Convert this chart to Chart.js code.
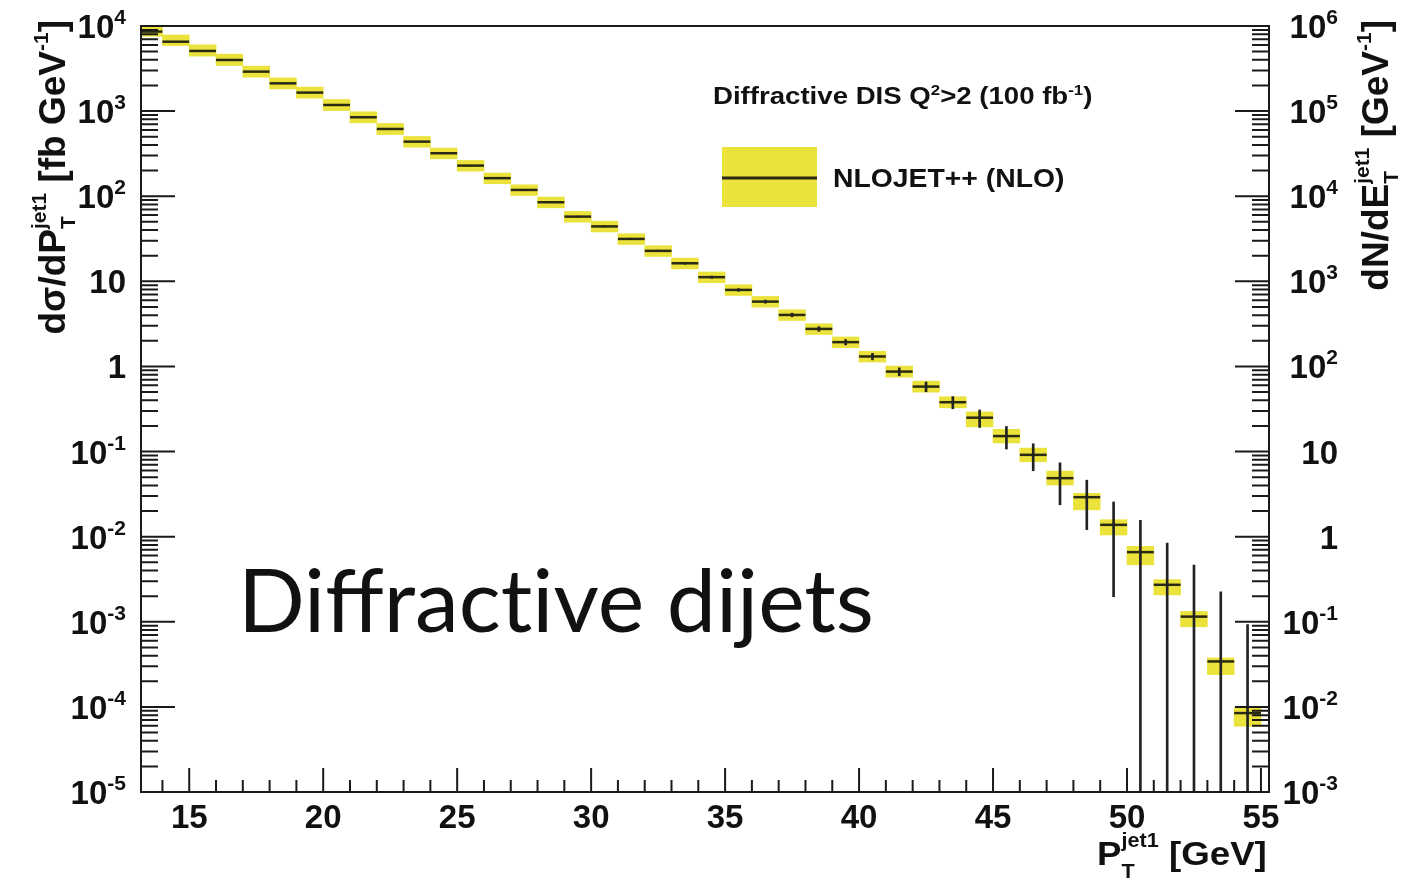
<!DOCTYPE html>
<html>
<head>
<meta charset="utf-8">
<title>Diffractive dijets</title>
<script src="https://cdn.jsdelivr.net/npm/chart.js@4.4.1/dist/chart.umd.min.js"></script>
<style>
  html, body { margin: 0; padding: 0; background: #fff; }
  #wrap { width: 1410px; height: 882px; }
</style>
</head>
<body>
<div id="wrap"><canvas id="chart-dijets" width="1410" height="882"></canvas></div>
<script>
// 1 GeV bins in P_T^jet1
const binCentres = [13.5, 14.5, 15.5, 16.5, 17.5, 18.5, 19.5, 20.5, 21.5, 22.5,
  23.5, 24.5, 25.5, 26.5, 27.5, 28.5, 29.5, 30.5, 31.5, 32.5,
  33.5, 34.5, 35.5, 36.5, 37.5, 38.5, 39.5, 40.5, 41.5, 42.5,
  43.5, 44.5, 45.5, 46.5, 47.5, 48.5, 49.5, 50.5, 51.5, 52.5,
  53.5, 54.5]

// NLOJET++ dsigma/dPT [fb/GeV]
const xsec = [8600, 6540, 5090, 3990, 2910, 2120, 1650, 1180, 847, 617,
  438, 320, 229, 163, 118.5, 85, 57.6, 44.2, 31.5, 22.8,
  16.3, 11.2, 7.93, 5.78, 4.03, 2.76, 1.93, 1.31, 0.870, 0.580,
  0.380, 0.250, 0.152, 0.0915, 0.0487, 0.0291, 0.01377, 0.00658, 0.00272, 0.00115,
  0.000342, 0.0000846]

// statistical error for 100 fb^-1
const statErr = [9, 8, 7, 6.3, 5.4, 4.6, 4.1, 3.4, 2.9, 2.5,
  2.1, 1.8, 1.5, 1.3, 1.1, 0.92, 0.76, 0.66, 0.56, 0.48,
  0.40, 0.33, 0.28, 0.24, 0.20, 0.17, 0.14, 0.115, 0.093, 0.076,
  0.062, 0.058, 0.045, 0.032, 0.025, 0.017, 0.0118, 0.0090, 0.0057, 0.0035,
  0.0019, 0.00084]

// theory band, relative up / down
const bandUp = [0.18, 0.20, 0.18, 0.17, 0.16, 0.16, 0.16, 0.16, 0.16, 0.16,
  0.15, 0.15, 0.15, 0.15, 0.15, 0.15, 0.15, 0.15, 0.15, 0.15,
  0.15, 0.15, 0.15, 0.15, 0.15, 0.15, 0.15, 0.15, 0.16, 0.16,
  0.16, 0.17, 0.20, 0.20, 0.21, 0.11, 0.15, 0.17, 0.15, 0.15,
  0.10, 0.15]
const bandDown = [0.12, 0.10, 0.13, 0.14, 0.14, 0.14, 0.14, 0.14, 0.14, 0.14,
  0.14, 0.14, 0.14, 0.14, 0.14, 0.14, 0.14, 0.14, 0.14, 0.14,
  0.14, 0.14, 0.14, 0.14, 0.14, 0.14, 0.14, 0.14, 0.14, 0.14,
  0.14, 0.22, 0.17, 0.17, 0.17, 0.29, 0.24, 0.29, 0.24, 0.24,
  0.30, 0.30]

const leftExponents = [4, 3, 2, 1, 0, -1, -2, -3, -4, -5]
const rightExponents = [6, 5, 4, 3, 2, 1, 0, -1, -2, -3]
const xTickLabels = [15, 20, 25, 30, 35, 40, 45, 50, 55]

const FONT = '"Liberation Sans", Arial, Helvetica, sans-serif'
const YELLOW = '#ebe33c'
const INK = '#111'

function textWidth(ctx, txt, size) {
  ctx.font = `bold ${size}px ${FONT}`
  return ctx.measureText(txt).width
}

function runWidth(ctx, r) {
  if (r.t !== undefined) return textWidth(ctx, r.t, r.size)
  return Math.max(textWidth(ctx, r.sup, r.size), textWidth(ctx, r.sub, r.size))
}

// draws a row of text pieces (plain, or stacked sup/sub) from an anchor on the baseline
function drawRuns(ctx, runs, x, y, align, rot = 0, sx = 1) {
  const total = runs.reduce((s, r) => s + runWidth(ctx, r), 0)
  let cx = align === 'right' ? -total : align === 'center' ? -total / 2 : 0
  ctx.save()
  ctx.translate(x, y)
  if (rot) ctx.rotate(rot)
  if (sx !== 1) ctx.scale(sx, 1)
  ctx.fillStyle = INK
  ctx.textAlign = 'left'
  ctx.textBaseline = 'alphabetic'
  for (const r of runs) {
    ctx.font = `bold ${r.size}px ${FONT}`
    if (r.t !== undefined) {
      ctx.fillText(r.t, cx, r.dy || 0)
    } else {
      ctx.fillText(r.sup, cx, r.supDy)
      ctx.fillText(r.sub, cx, r.subDy)
    }
    cx += runWidth(ctx, r)
  }
  ctx.restore()
}

function powerRuns(exp) {
  if (exp === 0) return [{ t: '1', size: 33 }]
  if (exp === 1) return [{ t: '10', size: 33 }]
  return [{ t: '10', size: 33 }, { t: String(exp), size: 21, dy: -14 }]
}

function drawLogTicks(ctx, scale, exps, x0, dir) {
  const top = Math.max(...exps)
  const bottom = Math.min(...exps)
  ctx.beginPath()
  for (let k = bottom; k <= top; k++) {
    const yp = scale.getPixelForValue(Math.pow(10, k))
    ctx.moveTo(x0, yp)
    ctx.lineTo(x0 + dir * 34, yp)
    if (k === top) continue
    for (let m = 2; m < 10; m++) {
      const ym = scale.getPixelForValue(m * Math.pow(10, k))
      ctx.moveTo(x0, ym)
      ctx.lineTo(x0 + dir * 17, ym)
    }
  }
  ctx.stroke()
}

const rootFrame = {
  id: 'rootFrame',
  afterDraw(chart) {
    const { ctx, chartArea: a, scales: { x, y, y2 } } = chart
    ctx.save()
    ctx.strokeStyle = '#1a1a1a'
    ctx.lineWidth = 2

    // ticks
    drawLogTicks(ctx, y, leftExponents, a.left, 1)
    drawLogTicks(ctx, y2, rightExponents, a.right, -1)
    ctx.beginPath()
    for (let v = Math.ceil(x.min); v <= Math.floor(x.max); v++) {
      const xp = x.getPixelForValue(v)
      ctx.moveTo(xp, a.bottom)
      ctx.lineTo(xp, a.bottom - (v % 5 === 0 ? 24 : 12))
    }
    ctx.stroke()

    ctx.strokeRect(a.left, a.top, a.right - a.left, a.bottom - a.top)

    // tick labels
    leftExponents.forEach(k => {
      drawRuns(ctx, powerRuns(k), 126, y.getPixelForValue(Math.pow(10, k)) + 12, 'right')
    })
    rightExponents.forEach(k => {
      drawRuns(ctx, powerRuns(k), 1338, y2.getPixelForValue(Math.pow(10, k)) + 12, 'right')
    })
    xTickLabels.forEach(v => {
      drawRuns(ctx, [{ t: String(v), size: 33 }], x.getPixelForValue(v), a.bottom + 36, 'center')
    })

    // axis titles
    drawRuns(ctx, [
      { t: 'dσ/dP', size: 37 },
      { sup: 'jet1', sub: 'T', size: 21, supDy: -19, subDy: 10 },
      { t: ' [fb GeV', size: 37 },
      { t: '-1', size: 21, dy: -17 },
      { t: ']', size: 37 }
    ], 65, 20, 'right', -Math.PI / 2)

    drawRuns(ctx, [
      { t: 'dN/dE', size: 37 },
      { sup: 'jet1', sub: 'T', size: 21, supDy: -19, subDy: 10 },
      { t: ' [GeV', size: 37 },
      { t: '-1', size: 21, dy: -17 },
      { t: ']', size: 37 }
    ], 1388, 20, 'right', -Math.PI / 2)

    drawRuns(ctx, [
      { t: 'P', size: 34 },
      { sup: 'jet1', sub: 'T', size: 20, supDy: -18, subDy: 13 },
      { t: ' [GeV]', size: 34 }
    ], 1097, 865, 'left', 0, 1.08)

    // legend
    drawRuns(ctx, [
      { t: 'Diffractive DIS Q', size: 23 },
      { t: '2', size: 14, dy: -9 },
      { t: '>2 (100 fb', size: 23 },
      { t: '-1', size: 14, dy: -9 },
      { t: ')', size: 23 }
    ], 713, 104, 'left', 0, 1.2)

    ctx.fillStyle = YELLOW
    ctx.fillRect(722, 147, 95, 60)
    ctx.strokeStyle = '#2a2a12'
    ctx.lineWidth = 3
    ctx.beginPath()
    ctx.moveTo(722, 178)
    ctx.lineTo(817, 178)
    ctx.stroke()
    drawRuns(ctx, [{ t: 'NLOJET++ (NLO)', size: 26 }], 833, 187, 'left', 0, 1.09)

    // slide caption (ZWNJ keeps "t" and "i" apart)
    ctx.fillStyle = INK
    ctx.font = '88px Lato, "Open Sans", sans-serif'
    ctx.textAlign = 'left'
    ctx.textBaseline = 'alphabetic'
    ctx.fillText('Diffract\u200Cive dijets', 238, 632)
    ctx.restore()
  }
}

const bandData = binCentres.map((c, i) => ({ x: c, y: [xsec[i] * (1 - bandDown[i]), xsec[i] * (1 + bandUp[i])] }))
const errData = binCentres.map((c, i) => ({ x: c, y: [Math.max(xsec[i] - statErr[i], 1e-8), xsec[i] + statErr[i]] }))
const centralData = binCentres.map((c, i) => ({ x: c, y: xsec[i] }))

function halfBinPx(ctx) {
  const sx = ctx.chart.scales.x
  return Math.abs(sx.getPixelForValue(1) - sx.getPixelForValue(0)) / 2
}

new Chart(document.getElementById('chart-dijets'), {
  type: 'bar',
  data: {
    datasets: [
      {
        label: 'NLOJET++ (NLO) band',
        data: bandData,
        backgroundColor: YELLOW,
        borderWidth: 0,
        grouped: false,
        barPercentage: 1,
        categoryPercentage: 1,
        clip: 0,
        order: 3
      },
      {
        label: 'stat',
        data: errData,
        backgroundColor: '#222',
        borderWidth: 0,
        grouped: false,
        barThickness: 2,
        clip: 0,
        order: 1
      },
      {
        type: 'line',
        label: 'NLOJET++ (NLO)',
        data: centralData,
        showLine: false,
        pointStyle: 'line',
        pointRadius: halfBinPx,
        pointBorderWidth: 2.5,
        pointBorderColor: '#2a2a12',
        pointBackgroundColor: '#2a2a12',
        clip: 0,
        order: 2
      }
    ]
  },
  options: {
    responsive: false,
    animation: false,
    events: [],
    layout: { padding: { top: 26, left: 0, right: 0, bottom: 0 } },
    plugins: { legend: { display: false }, tooltip: { enabled: false } },
    scales: {
      x: {
        type: 'linear',
        min: 13.2,
        max: 55.3,
        offset: false,
        grid: { display: false },
        border: { display: false },
        ticks: { display: false, stepSize: 1, includeBounds: false },
        afterFit: s => { s.height = 90 }
      },
      y: {
        type: 'logarithmic',
        position: 'left',
        min: 1e-5,
        max: 1e4,
        grid: { display: false },
        border: { display: false },
        ticks: { display: false },
        afterFit: s => { s.width = 141 }
      },
      y2: {
        type: 'logarithmic',
        position: 'right',
        min: 1e-3,
        max: 1e6,
        grid: { display: false },
        border: { display: false },
        ticks: { display: false },
        afterFit: s => { s.width = 141 }
      }
    }
  },
  plugins: [rootFrame]
})
</script>
</body>
</html>
